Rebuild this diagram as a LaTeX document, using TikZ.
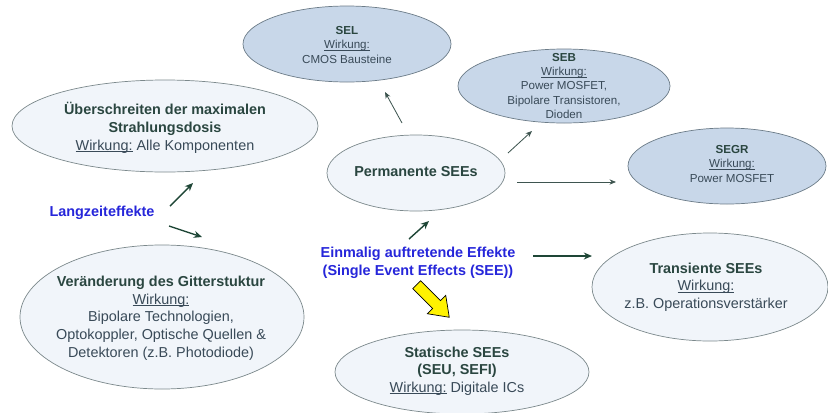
\documentclass[tikz,border=0pt]{standalone}
\usepackage{fontspec}
\setmainfont{Liberation Sans}
\usetikzlibrary{shapes.geometric,arrows.meta}

\definecolor{topfill}{HTML}{C8D7E9}
\definecolor{topborder}{HTML}{6C7C88}
\definecolor{lowfill}{HTML}{F1F5FA}
\definecolor{lowborder}{HTML}{7C898C}
\definecolor{titlec}{HTML}{2A4640}
\definecolor{txt}{HTML}{394A58}
\definecolor{bluetxt}{HTML}{2626DA}
\definecolor{arrowgreen}{HTML}{1E4636}
\definecolor{arrowgray}{HTML}{3E5550}
\definecolor{yellowfill}{HTML}{FFF200}

\newcommand\bubtitle[1]{{\color{titlec}\bfseries #1}}
% "Wirkung:" with an underline set close under the baseline
\newsavebox\wirkbox
\newcommand\wirk{\sbox\wirkbox{Wirkung:}\rlap{\rule[-0.13em]{\wd\wirkbox}{0.06em}}\usebox\wirkbox}

\begin{document}
\begin{tikzpicture}[x=0.03cm,y=-0.03cm,
  radii/.style 2 args={minimum width=#1*0.06cm, minimum height=#2*0.06cm},
  topbub/.style={ellipse, draw=topborder, fill=topfill, line width=0.6pt, inner sep=0pt},
  lowbub/.style={ellipse, draw=lowborder, fill=lowfill, line width=0.6pt, inner sep=0pt},
  bigtext/.style={align=center, text=txt, inner sep=0pt, font=\fontsize{12.3}{15.1}\selectfont},
  smalltext/.style={align=center, text=txt, inner sep=0pt, font=\fontsize{9.9}{12.1}\selectfont},
  bluetext/.style={align=center, text=bluetxt, inner sep=0pt, font=\fontsize{12.3}{15.1}\selectfont\bfseries},
  arr/.style={-{Stealth[length=7pt,width=6pt]}, draw=arrowgreen, line width=1.2pt},
  thinarr/.style={-{Stealth[length=5.5pt,width=4.5pt]}, draw=arrowgray, line width=0.7pt},
  yellowarrow/.style={fill=yellowfill, draw=black, line width=0.6pt, line join=miter}
]
\fill[white] (0,0) rectangle (828,412);
\useasboundingbox (0,0) rectangle (828,412);

% ellipses
\node[topbub, radii={104}{38}] (sel)  at (347,44) {};
\node[topbub, radii={106}{37}] (seb)  at (564,86) {};
\node[topbub, radii={99}{38}]  (segr) at (727,166) {};
\node[lowbub, radii={153}{46}] (dose) at (165,126) {};
\node[lowbub, radii={142}{72}] (grid) at (162,317) {};
\node[lowbub, radii={89}{38}]  (perm) at (416,173) {};
\node[lowbub, radii={127}{42}] (stat) at (462,372) {};
\node[lowbub, radii={118}{54}] (trans) at (710,287) {};

% ellipse texts
\node[smalltext] (sel-t) at (347,45) {\bubtitle{SEL}\\ \wirk\\ CMOS Bausteine};
\node[smalltext] (seb-t) at (564,86) {\bubtitle{SEB}\\ \wirk\\ Power MOSFET,\\ Bipolare Transistoren,\\ Dioden};
\node[smalltext] (segr-t) at (732,164) {\bubtitle{SEGR}\\ \wirk\\ Power MOSFET};
\node[bigtext] (dose-t) at (165,128) {\bubtitle{Überschreiten der maximalen}\\ \bubtitle{Strahlungsdosis}\\ \wirk{} Alle Komponenten};
\node[bigtext] (grid-t) at (161,318) {\bubtitle{Veränderung des Gitterstuktur}\\ \wirk\\ Bipolare Technologien,\\ Optokoppler, Optische Quellen \&\\ Detektoren (z.B. Photodiode)};
\node[bigtext] (perm-t) at (416,172) {\bubtitle{Permanente SEEs}};
\node[bigtext] (stat-t) at (457,371) {\bubtitle{Statische SEEs}\\ \bubtitle{(SEU, SEFI)}\\ \wirk{} Digitale ICs};
\node[bigtext] (trans-t) at (706,287) {\bubtitle{Transiente SEEs}\\ \wirk\\ z.B. Operationsverstärker};

% free labels
\node[bluetext] (lang) at (102,213) {Langzeiteffekte};
\node[bluetext] (see) at (418,263) {Einmalig auftretende Effekte\\ (Single Event Effects (SEE))};

% arrow end points
\coordinate (l-up-a) at (170,206);
\coordinate (l-up-b) at (193,183);
\coordinate (l-dn-a) at (169,226);
\coordinate (l-dn-b) at (202,237);
\coordinate (s-up-a) at (409,239);
\coordinate (s-up-b) at (429,221);
\coordinate (s-rt-a) at (533,256);
\coordinate (s-rt-b) at (592,256);
\coordinate (p-sel-a) at (402,123);
\coordinate (p-sel-b) at (385,92);
\coordinate (p-seb-a) at (508,153);
\coordinate (p-seb-b) at (532,131);
\coordinate (p-segr-a) at (517,182);
\coordinate (p-segr-b) at (616,182);

\draw[arr] (l-up-a) -- (l-up-b);
\draw[arr] (l-dn-a) -- (l-dn-b);
\draw[arr] (s-up-a) -- (s-up-b);
\draw[arr] (s-rt-a) -- (s-rt-b);
\draw[thinarr] (p-sel-a) -- (p-sel-b);
\draw[thinarr] (p-seb-a) -- (p-seb-b);
\draw[thinarr] (p-segr-a) -- (p-segr-b);

% yellow block arrow pointing to the static SEEs
\draw[yellowarrow, shift={(433,301)}, rotate=-45]
  (-23,-5.5) -- (5,-5.5) -- (5,-13) -- (23,0) -- (5,13) -- (5,5.5) -- (-23,5.5) -- cycle;
\end{tikzpicture}
\end{document}
